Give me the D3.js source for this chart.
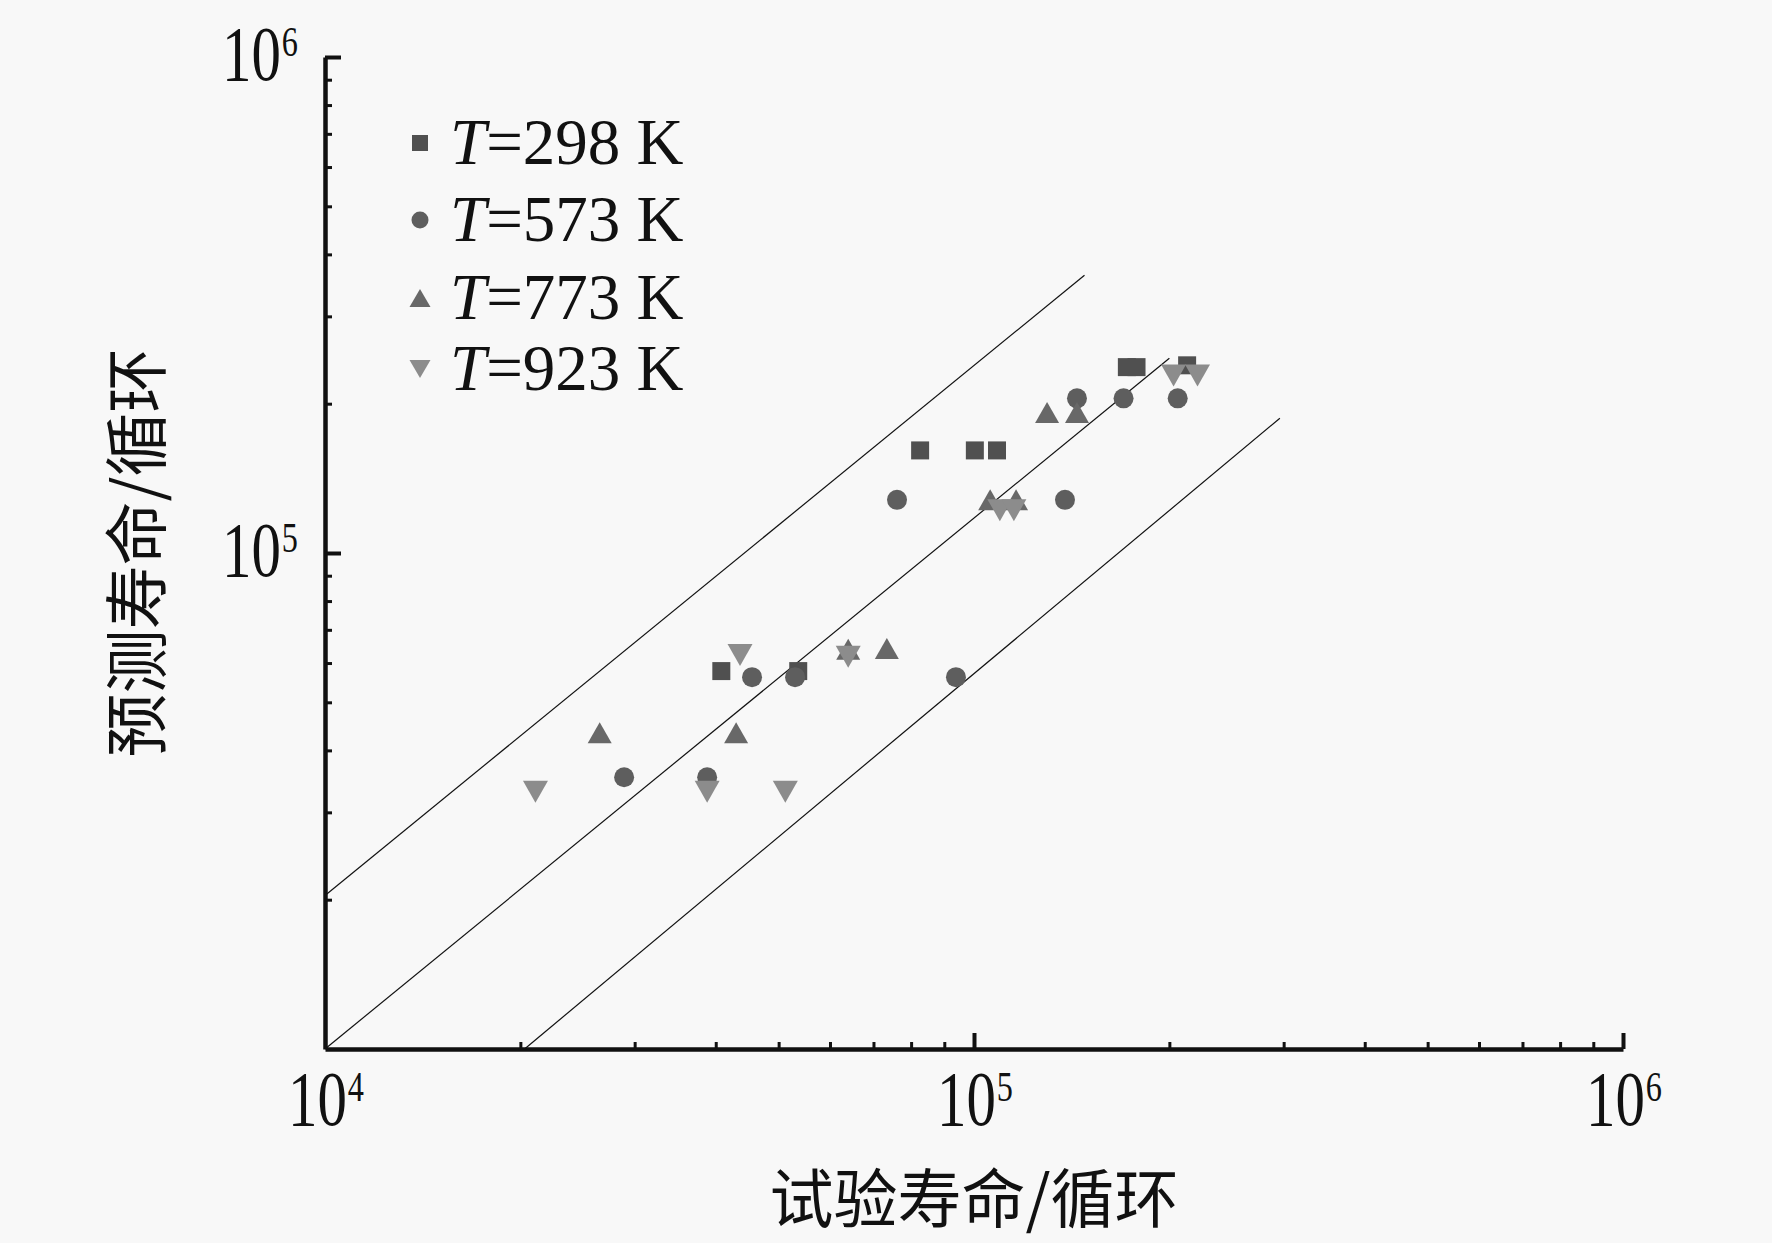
<!DOCTYPE html>
<html>
<head>
<meta charset="utf-8">
<script src="https://cdn.jsdelivr.net/npm/d3@7"></script>
<style>
  html, body { margin: 0; padding: 0; background: #f8f8f8; }
  svg { display: block; }
  .serif { font-family: "Liberation Serif", "Times New Roman", serif; fill: #111; }
  .cjk { font-family: "Noto Sans CJK SC", sans-serif; fill: #111; }
</style>
</head>
<body>
<div id="chart"></div>
<script>
var t298 = [[4.08e4, 5.78e4], [5.36e4, 5.78e4], [8.26e4, 1.61e5], [1.003e5, 1.61e5],
            [1.085e5, 1.61e5], [1.72e5, 2.37e5], [1.78e5, 2.37e5], [2.13e5, 2.39e5]];
var t573 = [[2.89e4, 3.53e4], [3.88e4, 3.53e4], [4.55e4, 5.62e4], [5.30e4, 5.62e4],
            [9.38e4, 5.62e4], [7.61e4, 1.28e5], [1.381e5, 1.28e5], [1.441e5, 2.05e5],
            [1.70e5, 2.05e5], [2.06e5, 2.05e5]];
var t773 = [[2.65e4, 4.34e4], [4.30e4, 4.34e4], [6.40e4, 6.40e4], [7.34e4, 6.42e4],
            [1.059e5, 1.28e5], [1.161e5, 1.28e5], [1.296e5, 1.92e5], [1.441e5, 1.92e5]];
var t923 = [[2.11e4, 3.30e4], [3.88e4, 3.30e4], [4.36e4, 6.23e4], [5.12e4, 3.30e4],
            [6.40e4, 6.18e4], [1.096e5, 1.22e5], [1.152e5, 1.22e5], [2.03e5, 2.28e5],
            [2.21e5, 2.28e5]];

var tempLabels = ["298", "573", "773", "923"];

// scatter band lines (upper, middle, lower)
var bandUpper = [[1e4, 2.04e4], [1.48e5, 3.63e5]];
var bandMiddle = [[1e4, 1e4], [2.00e5, 2.47e5]];
var bandLower = [[2.03e4, 1e4], [2.96e5, 1.87e5]];

var majorTicks = [1e4, 1e5, 1e6];
var tickExponents = ["4", "5", "6"];
var minorTicks = [2e4, 3e4, 4e4, 5e4, 6e4, 7e4, 8e4, 9e4, 2e5, 3e5, 4e5, 5e5, 6e5, 7e5, 8e5, 9e5];

var width = 1772, height = 1243;
var margin = {top: 57, right: 149, bottom: 194, left: 325};

var svg = d3.select("#chart").append("svg")
    .attr("width", width)
    .attr("height", height);

var x = d3.scaleLog().domain([1e4, 1e6]).range([margin.left, width - margin.right]);
var y = d3.scaleLog().domain([1e4, 1e6]).range([height - margin.bottom, margin.top]);

var x0 = x.range()[0], y0 = y.range()[0];

// band lines
var line = d3.line()
    .x(function(d) { return x(d[0]); })
    .y(function(d) { return y(d[1]); });

[bandUpper, bandMiddle, bandLower].forEach(function(b) {
  svg.append("path")
      .datum(b)
      .attr("d", line)
      .attr("fill", "none")
      .attr("stroke", "#111")
      .attr("stroke-width", 1.2);
});

// axes - minor ticks first, then the major ones
function styleAxis(g, w, keepDomain) {
  g.selectAll(".tick line").attr("stroke", "#111").attr("stroke-width", w);
  if (keepDomain) {
    g.select(".domain").attr("stroke", "#111").attr("stroke-width", 4.5);
  } else {
    g.select(".domain").remove();
  }
  g.selectAll(".tick text").remove();
}

var gxMinor = svg.append("g").attr("transform", "translate(0," + y0 + ")")
    .call(d3.axisBottom(x).tickValues(minorTicks).tickSizeInner(-7).tickSizeOuter(0).tickFormat(""));
styleAxis(gxMinor, 3, true);
var gxMajor = svg.append("g").attr("transform", "translate(0," + y0 + ")")
    .call(d3.axisBottom(x).tickValues(majorTicks.slice(1)).tickSizeInner(-16).tickSizeOuter(0).tickFormat(""));
styleAxis(gxMajor, 4, false);

var gyMinor = svg.append("g").attr("transform", "translate(" + x0 + ",0)")
    .call(d3.axisLeft(y).tickValues(minorTicks).tickSizeInner(-7).tickSizeOuter(0).tickFormat(""));
styleAxis(gyMinor, 3, true);
var gyMajor = svg.append("g").attr("transform", "translate(" + x0 + ",0)")
    .call(d3.axisLeft(y).tickValues(majorTicks.slice(1)).tickSizeInner(-16).tickSizeOuter(0).tickFormat(""));
styleAxis(gyMajor, 4, false);

// power-of-ten tick labels
function powerLabel(sel, exp) {
  sel.append("tspan").text("10");
  sel.append("tspan").attr("font-size", 34).attr("dy", -19).attr("dx", 1).text(exp);
}

majorTicks.forEach(function(v, i) {
  var t = svg.append("text")
      .attr("class", "serif")
      .attr("font-size", 62)
      .attr("text-anchor", "middle")
      .attr("transform", "translate(" + (x(v) + 1) + "," + (y0 + 76) + ") scale(0.95,1.25)");
  powerLabel(t, tickExponents[i]);
});

majorTicks.slice(1).forEach(function(v, i) {
  var t = svg.append("text")
      .attr("class", "serif")
      .attr("font-size", 62)
      .attr("text-anchor", "end")
      .attr("transform", "translate(" + (x0 - 27) + "," + (y(v) + 23) + ") scale(0.95,1.25)");
  powerLabel(t, tickExponents[i + 1]);
});

// axis titles
svg.append("text")
    .attr("class", "cjk")
    .attr("font-size", 64)
    .attr("text-anchor", "middle")
    .attr("x", x(1e5))
    .attr("y", 1222)
    .text("试验寿命/循环");

svg.append("text")
    .attr("class", "cjk")
    .attr("font-size", 64)
    .attr("text-anchor", "middle")
    .attr("transform", "translate(160," + y(1e5) + ") rotate(-90)")
    .text("预测寿命/循环");

// marker shapes
function square(s) {
  var h = s / 2;
  return "M" + (-h) + "," + (-h) + "H" + h + "V" + h + "H" + (-h) + "Z";
}
function circle(r) {
  return "M" + (-r) + ",0A" + r + "," + r + " 0 1,0 " + r + ",0A" + r + "," + r + " 0 1,0 " + (-r) + ",0Z";
}
function triUp(w, h) {
  return "M0," + (-h / 2) + "L" + (w / 2) + "," + (h / 2) + "L" + (-w / 2) + "," + (h / 2) + "Z";
}
function triDown(w, h) {
  return "M0," + (h / 2) + "L" + (w / 2) + "," + (-h / 2) + "L" + (-w / 2) + "," + (-h / 2) + "Z";
}

var series = [
  {data: t298, color: "#505050", shape: square(18), legendShape: square(16)},
  {data: t573, color: "#5e5e5e", shape: circle(10), legendShape: circle(8.5)},
  {data: t773, color: "#686868", shape: triUp(24, 21), legendShape: triUp(21, 18)},
  {data: t923, color: "#8c8c8c", shape: triDown(25, 22), legendShape: triDown(21, 18)}
];

series.forEach(function(s) {
  svg.append("g").selectAll("path")
      .data(s.data)
    .enter().append("path")
      .attr("d", s.shape)
      .attr("fill", s.color)
      .attr("transform", function(d) { return "translate(" + x(d[0]) + "," + y(d[1]) + ")"; });
});

// legend
var legendRows = [143, 220, 298, 369];
series.forEach(function(s, i) {
  var ly = legendRows[i];
  svg.append("path")
      .attr("d", s.legendShape)
      .attr("fill", s.color)
      .attr("transform", "translate(420," + ly + ")");
  var t = svg.append("text")
      .attr("class", "serif")
      .attr("font-size", 65)
      .attr("x", 450)
      .attr("y", ly + 21);
  t.append("tspan").attr("font-style", "italic").text("T");
  t.append("tspan").text("=" + tempLabels[i] + " K");
});
</script>
</body>
</html>
